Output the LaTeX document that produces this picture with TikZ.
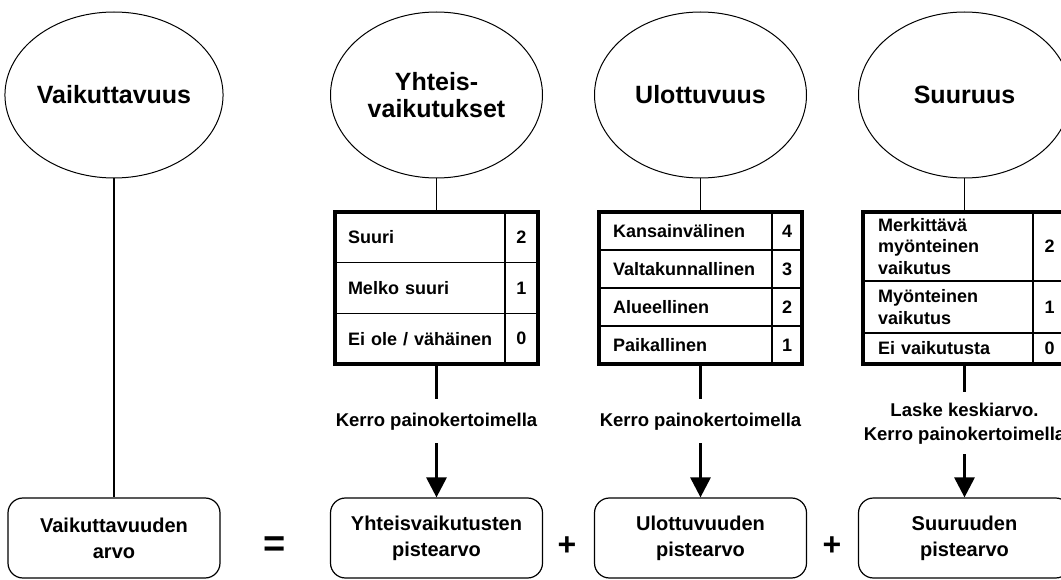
\documentclass[tikz,border=0pt]{standalone}
\usepackage{fontspec}
\setmainfont{Liberation Sans}
\usetikzlibrary{shapes.geometric,arrows.meta}
\newcommand{\fsz}[2]{\fontsize{#1}{#2}\selectfont\bfseries\hyphenpenalty=10000\exhyphenpenalty=10000}
\begin{document}
\begin{tikzpicture}[x=1pt,y=-1pt,
  ell/.style={ellipse, draw, line width=1pt, inner sep=0pt, minimum width=212pt, minimum height=166pt, align=center, font=\fsz{25}{27}},
  res/.style={rectangle, rounded corners=15pt, draw, line width=1.2pt, minimum width=212pt, minimum height=80pt, align=center, font=\fsz{20}{26}},
  frame/.style={draw, line width=3.5pt, inner sep=0pt, minimum width=203pt, minimum height=152pt},
  lc/.style={draw, line width=1.5pt, inner ysep=0pt, align=left, font=\fsz{18}{21.5}},
  nc/.style={draw, line width=1.5pt, inner sep=0pt, font=\fsz{18}{21.5}},
  lab/.style={align=center, font=\fsz{18.5}{24}, inner xsep=0pt},
  link/.style={line width=1.8pt},
  heavy/.style={line width=3pt},
  arr/.style={line width=3pt, -{Triangle[width=20pt,length=20pt]}},
  sign/.style={inner sep=0pt}
]
\clip (0,0) rectangle (1061,580);

% ellipses
\node[ell] (e1) at (114,95) {Vaikuttavuus};
\node[ell] (e2) at (436.5,95) {Yhteis-\\vaikutukset};
\node[ell] (e3) at (700.5,95) {Ulottuvuus};
\node[ell] (e4) at (964.5,95) {Suuruus};

% table 2
\node[lc, inner xsep=13pt, text width=144pt, minimum height=50.67pt] (t2a) at (420,237.33) {Suuri};
\node[lc, inner xsep=13pt, text width=144pt, minimum height=50.67pt] (t2b) at (420,288) {Melko suuri};
\node[lc, inner xsep=13pt, text width=144pt, minimum height=50.67pt] (t2c) at (420,338.67) {\mbox{Ei ole / vähäinen}};
\node[nc, minimum width=33pt, minimum height=50.67pt] (t2x) at (521.5,237.33) {2};
\node[nc, minimum width=33pt, minimum height=50.67pt] (t2y) at (521.5,288) {1};
\node[nc, minimum width=33pt, minimum height=50.67pt] (t2z) at (521.5,338.67) {0};
\node[frame] (T2) at (436.5,288) {};

% table 3
\node[lc, inner xsep=14pt, text width=145pt, minimum height=38pt] (t3a) at (685.5,231) {Kansainvälinen};
\node[lc, inner xsep=14pt, text width=145pt, minimum height=38pt] (t3b) at (685.5,269) {\mbox{Valtakunnallinen}};
\node[lc, inner xsep=14pt, text width=145pt, minimum height=38pt] (t3c) at (685.5,307) {Alueellinen};
\node[lc, inner xsep=14pt, text width=145pt, minimum height=38pt] (t3d) at (685.5,345) {Paikallinen};
\node[nc, minimum width=30pt, minimum height=38pt] (t3w) at (787,231) {4};
\node[nc, minimum width=30pt, minimum height=38pt] (t3x) at (787,269) {3};
\node[nc, minimum width=30pt, minimum height=38pt] (t3y) at (787,307) {2};
\node[nc, minimum width=30pt, minimum height=38pt] (t3z) at (787,345) {1};
\node[frame] (T3) at (700.5,288) {};

% table 4
\node[lc, inner xsep=15pt, text width=140pt, minimum height=69pt] (t4a) at (948,246.5) {Merkittävä\\myönteinen\\vaikutus};
\node[lc, inner xsep=15pt, text width=140pt, minimum height=52pt] (t4b) at (948,307) {Myönteinen\\vaikutus};
\node[lc, inner xsep=15pt, text width=140pt, minimum height=31pt] (t4c) at (948,348.5) {Ei vaikutusta};
\node[nc, minimum width=33pt, minimum height=69pt] (t4x) at (1049.5,246.5) {2};
\node[nc, minimum width=33pt, minimum height=52pt] (t4y) at (1049.5,307) {1};
\node[nc, minimum width=33pt, minimum height=31pt] (t4z) at (1049.5,348.5) {0};
\node[frame] (T4) at (964.5,288) {};

% labels
\node[lab, inner ysep=13pt] (k2) at (436.5,421.3) {Kerro painokertoimella};
\node[lab, inner ysep=13pt] (k3) at (700.5,421.3) {Kerro painokertoimella};
\node[lab, inner ysep=10pt] (k4) at (964.5,423.3) {Laske keskiarvo.\\Kerro painokertoimella};

% result boxes
\node[res] (b1) at (114,538) {Vaikuttavuuden\\arvo};
\node[res] (b2) at (436.5,538) {Yhteisvaikutusten\\pistearvo};
\node[res] (b3) at (700.5,538) {Ulottuvuuden\\pistearvo};
\node[res] (b4) at (964.5,538) {Suuruuden\\pistearvo};

% signs
\node[sign, font=\fsz{38}{38}] (eq) at (275,547) {=};
\node[sign, font=\fsz{32}{32}] (p1) at (567,546) {+};
\node[sign, font=\fsz{32}{32}] (p2) at (832,546) {+};

% connectors
\draw[link] (e1.south) -- (b1.north);
\draw[link] (e2.south) -- (T2.north);
\draw[link] (e3.south) -- (T3.north);
\draw[link] (e4.south) -- (T4.north);
\draw[heavy] (T2.south) -- (k2.north);
\draw[heavy] (T3.south) -- (k3.north);
\draw[heavy] (T4.south) -- (k4.north);
\draw[arr] (k2.south) -- (b2.north);
\draw[arr] (k3.south) -- (b3.north);
\draw[arr] (k4.south) -- (b4.north);
\end{tikzpicture}
\end{document}
